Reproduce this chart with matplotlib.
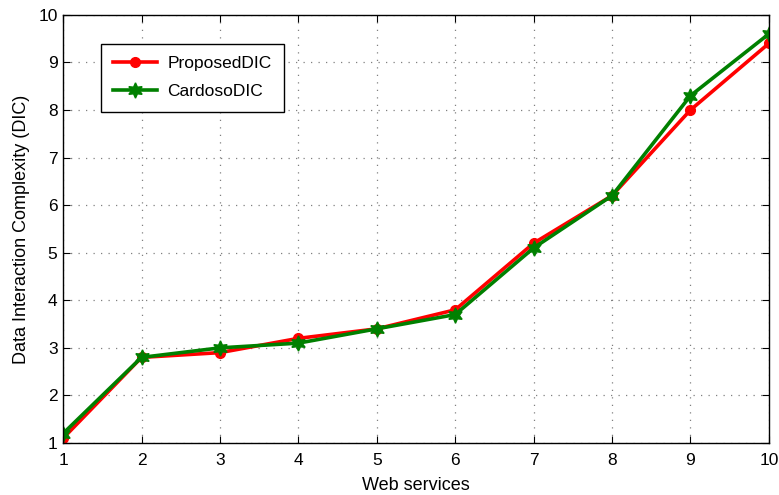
# Data Interaction Complexity: ProposedDIC vs CardosoDIC

import matplotlib
matplotlib.use("Agg")
import matplotlib.pyplot as plt

plt.rcParams['font.family'] = ['Liberation Sans', 'DejaVu Sans']

services = [1, 2, 3, 4, 5, 6, 7, 8, 9, 10]
proposed = [1.1, 2.8, 2.9, 3.2, 3.4, 3.8, 5.2, 6.2, 8.0, 9.4]
cardoso = [1.2, 2.8, 3.0, 3.1, 3.4, 3.7, 5.1, 6.2, 8.3, 9.6]

fig = plt.figure(figsize=(7.79, 4.95), dpi=100)
ax = fig.add_axes([0.081, 0.105, 0.906, 0.865])

ax.plot(services, proposed, color='red', lw=2.6, marker='o', ms=7,
        label='ProposedDIC')
ax.plot(services, cardoso, color='green', lw=2.6, marker=(6, 1, 0), ms=11,
        label='CardosoDIC')

ax.set_xlim(1, 10)
ax.set_ylim(1, 10)
ax.set_xticks(services)
ax.set_yticks(range(1, 11))
ax.tick_params(direction='in', top=True, right=True, labelsize=12.5, length=5)
ax.tick_params(axis='x', pad=7)
ax.tick_params(axis='y', pad=4)
ax.grid(True, linestyle=(0, (1, 5)), color='gray', lw=0.9)
for s in ax.spines.values():
    s.set_linewidth(1)

ax.set_xlabel('Web services', fontsize=13, labelpad=7)
ax.set_ylabel('Data Interaction Complexity (DIC)', fontsize=13, labelpad=6)

leg = ax.legend(loc='upper left', bbox_to_anchor=(0.054, 0.932), fontsize=12.5,
                fancybox=False, framealpha=1, edgecolor='black',
                borderaxespad=0, handlelength=2.5, handletextpad=0.6,
                borderpad=0.7, labelspacing=0.75)
leg.get_frame().set_linewidth(1)

plt.savefig('out.png', dpi=100)
